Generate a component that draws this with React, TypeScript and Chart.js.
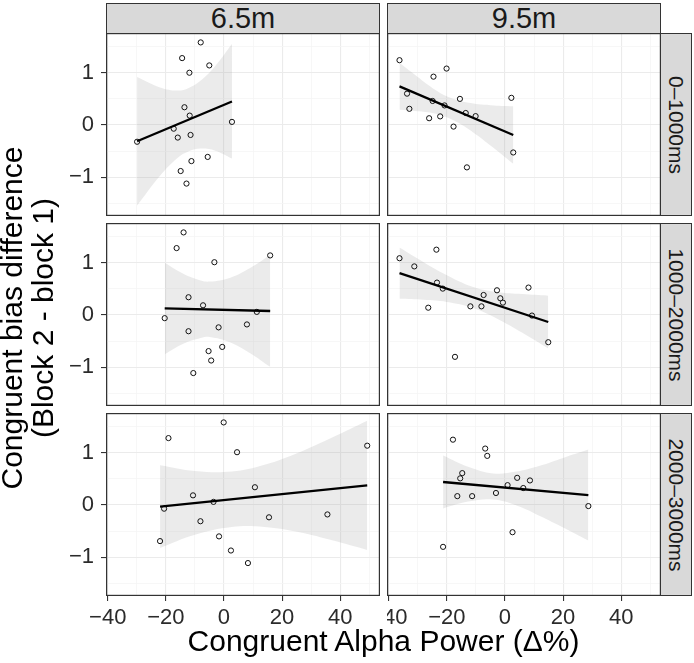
import React, { useEffect, useRef } from "react";
import { Chart, registerables } from "chart.js";

Chart.register(...registerables);

const FONT = "'Liberation Sans', Arial, Helvetica, sans-serif";

// facet labels
const columnLabels = ["6.5m", "9.5m"];
const rowLabels = ["0\u20131000ms", "1000\u20132000ms", "2000\u20133000ms"];

// axes
const xMajorTicks = [-40, -20, 0, 20, 40];
const xMinorTicks = [-30, -10, 10, 30, 50];
const yMajorTicks = [-1, 0, 1];
const yMinorTicks = [-1.5, -0.5, 0.5, 1.5];
const xRange = [-40.6, 53.7];
const yRange = [-1.74, 1.76];
const xTitle = "Congruent Alpha Power (\u0394%)";
const yTitleLines = ["Congruent bias difference", "(Block 2 - block 1)"];

// ---- row 1 (0–1000ms), 6.5m
const r1c1X = [-29.9, -8.0, -14.4, -5.05, -11.9, -13.6, -11.8, 2.75, -17.3, -15.9, -11.5, -5.6, -11.2, -14.9, -12.9];
const r1c1Y = [-0.32, 1.58, 1.28, 1.14, 1.0, 0.34, 0.18, 0.06, -0.07, -0.24, -0.19, -0.61, -0.69, -0.88, -1.12];
const r1c1FitX = [-29.9, 2.75];
const r1c1FitY = [-0.31, 0.45];
const r1c1BandX = [-29.9, -22, -16, -12.1, -8, -3, 2.75];
const r1c1BandLo = [-1.54, -0.97, -0.63, -0.5, -0.45, -0.49, -0.64];
const r1c1BandHi = [0.92, 0.72, 0.66, 0.71, 0.85, 1.13, 1.55];

// ---- row 1 (0–1000ms), 9.5m
const r1c2X = [-36.3, -33.7, -32.9, -24.6, -26.1, -24.9, -22.3, -20.1, -20.8, -17.7, -15.5, -13.5, -10.1, -13.1, 2.2, 2.85];
const r1c2Y = [1.24, 0.6, 0.31, 0.925, 0.13, 0.46, 0.165, 1.08, 0.375, -0.03, 0.5, 0.23, 0.17, -0.81, 0.52, -0.525];
const r1c2FitX = [-36.3, 2.85];
const r1c2FitY = [0.74, -0.19];
const r1c2BandX = [-36.3, -31, -25, -19.2, -13, -5, 2.85];
const r1c2BandLo = [0.29, 0.27, 0.23, 0.13, -0.06, -0.39, -0.74];
const r1c2BandHi = [1.19, 0.96, 0.71, 0.53, 0.43, 0.38, 0.36];

// ---- row 2 (1000–2000ms), 6.5m
const r2c1X = [-20.4, -16.3, -13.9, -12.2, -12.2, -10.55, -7.2, -5.3, -4.4, -3.3, -1.85, -0.6, 7.9, 11.3, 15.9];
const r2c1Y = [-0.06, 1.28, 1.58, 0.34, -0.31, -1.11, 0.186, -0.69, -0.87, 1.01, -0.236, -0.61, -0.18, 0.06, 1.14];
const r2c1FitX = [-20.4, 15.9];
const r2c1FitY = [0.128, 0.077];
const r2c1BandX = [-20.4, -14, -8, -4.87, 2, 9, 15.9];
const r2c1BandLo = [-0.75, -0.55, -0.44, -0.42, -0.52, -0.73, -0.99];
const r2c1BandHi = [1.0, 0.79, 0.66, 0.64, 0.71, 0.9, 1.15];

// ---- row 2 (1000–2000ms), 9.5m
const r2c2X = [-36.3, -31.2, -23.6, -23.4, -21.4, -26.4, -17.2, -11.9, -8.1, -7.35, -2.75, -1.6, -0.7, 8.1, 9.3, 14.9];
const r2c2Y = [1.086, 0.93, 1.25, 0.62, 0.505, 0.14, -0.8, 0.166, 0.166, 0.383, 0.473, 0.32, 0.237, 0.525, -0.01, -0.52];
const r2c2FitX = [-36.3, 14.9];
const r2c2FitY = [0.8, -0.134];
const r2c2BandX = [-36.3, -28, -20, -11.2, -3, 6, 14.9];
const r2c2BandLo = [0.31, 0.29, 0.25, 0.14, -0.06, -0.34, -0.64];
const r2c2BandHi = [1.29, 1.01, 0.76, 0.54, 0.44, 0.4, 0.37];

// ---- row 3 (2000–3000ms), 6.5m
const r3c1X = [-22.0, -20.6, -19.1, -10.65, -8.1, -3.6, -1.7, -0.1, 2.4, 4.5, 8.25, 10.65, 15.5, 35.6, 49.3];
const r3c1Y = [-0.69, -0.07, 1.28, 0.185, -0.31, 0.06, -0.6, 1.58, -0.87, 1.01, -1.11, 0.34, -0.235, -0.18, 1.135];
const r3c1FitX = [-22, 49.3];
const r3c1FitY = [-0.03, 0.377];
const r3c1BandX = [-22, -10, 2.69, 14, 26, 37.6, 49.3];
const r3c1BandLo = [-0.82, -0.57, -0.42, -0.42, -0.52, -0.68, -0.86];
const r3c1BandHi = [0.76, 0.65, 0.64, 0.77, 1.01, 1.3, 1.61];

// ---- row 3 (2000–3000ms), 9.5m
const r3c2X = [-17.9, -21.3, -6.8, -6.1, -14.7, -15.4, -16.4, -11.3, -3.1, 0.9, 4.2, 6.3, 8.6, 2.6, 28.7];
const r3c2Y = [1.25, -0.8, 1.08, 0.94, 0.61, 0.51, 0.17, 0.17, 0.23, 0.38, 0.52, 0.325, 0.47, -0.52, -0.02];
const r3c2FitX = [-21.3, 28.7];
const r3c2FitY = [0.44, 0.19];
const r3c2BandX = [-21.3, -12.7, -4.11, 4, 12, 20, 28.7];
const r3c2BandLo = [-0.065, 0.065, 0.104, -0.01, -0.21, -0.43, -0.68];
const r3c2BandHi = [0.945, 0.73, 0.604, 0.64, 0.75, 0.9, 1.06];

type PanelData = {
  x: number[]; y: number[];
  fitX: number[]; fitY: number[];
  bandX: number[]; bandLo: number[]; bandHi: number[];
};

const panels: PanelData[][] = [
  [
    { x: r1c1X, y: r1c1Y, fitX: r1c1FitX, fitY: r1c1FitY, bandX: r1c1BandX, bandLo: r1c1BandLo, bandHi: r1c1BandHi },
    { x: r1c2X, y: r1c2Y, fitX: r1c2FitX, fitY: r1c2FitY, bandX: r1c2BandX, bandLo: r1c2BandLo, bandHi: r1c2BandHi },
  ],
  [
    { x: r2c1X, y: r2c1Y, fitX: r2c1FitX, fitY: r2c1FitY, bandX: r2c1BandX, bandLo: r2c1BandLo, bandHi: r2c1BandHi },
    { x: r2c2X, y: r2c2Y, fitX: r2c2FitX, fitY: r2c2FitY, bandX: r2c2BandX, bandLo: r2c2BandLo, bandHi: r2c2BandHi },
  ],
  [
    { x: r3c1X, y: r3c1Y, fitX: r3c1FitX, fitY: r3c1FitY, bandX: r3c1BandX, bandLo: r3c1BandLo, bandHi: r3c1BandHi },
    { x: r3c2X, y: r3c2Y, fitX: r3c2FitX, fitY: r3c2FitY, bandX: r3c2BandX, bandLo: r3c2BandLo, bandHi: r3c2BandHi },
  ],
];

// layout
const COL_LEFT = [106, 387];
const ROW_TOP = [33, 223, 413];
const PW = 274;
const PH = 183;
const AX_L = 56;
const AX_B = 38;

const zip = (a: number[], b: number[]) => a.map((v, i) => ({ x: v, y: b[i] }));
const fmt = (v: number) => (v < 0 ? "\u2212" + Math.abs(v) : String(v));

const borderPlugin = {
  id: "panelBorder",
  afterDraw(chart: any) {
    const { ctx, chartArea: a } = chart;
    ctx.save();
    ctx.strokeStyle = "#333333";
    ctx.lineWidth = 1.2;
    ctx.strokeRect(a.left + 0.6, a.top + 0.6, a.right - a.left - 1.2, a.bottom - a.top - 1.2);
    ctx.restore();
  },
};

const zeroPad = (s: any) => {
  s.paddingTop = 0;
  s.paddingBottom = 0;
  s.paddingLeft = 0;
  s.paddingRight = 0;
};

function Panel({ row, col }: { row: number; col: number }) {
  const ref = useRef<HTMLCanvasElement>(null);
  const showY = col === 0;
  const showX = row === 2;
  const w = PW + (showY ? AX_L : 0);
  const h = PH + (showX ? AX_B : 0);

  useEffect(() => {
    const d = panels[row][col];
    const xAll = [...xMajorTicks, ...xMinorTicks].sort((a, b) => a - b);
    const yAll = [...yMajorTicks, ...yMinorTicks].sort((a, b) => a - b);
    const chart = new Chart(ref.current as HTMLCanvasElement, {
      type: "line",
      data: {
        datasets: [
          {
            data: zip(d.fitX, d.fitY),
            borderColor: "#000000",
            borderWidth: 2.3,
            pointRadius: 0,
            fill: false,
          },
          {
            data: zip(d.x, d.y),
            showLine: false,
            pointRadius: 2.6,
            pointBorderWidth: 1,
            pointBorderColor: "#111111",
            pointBackgroundColor: "rgba(0,0,0,0)",
          },
          {
            data: zip(d.bandX, d.bandHi),
            borderColor: "rgba(0,0,0,0)",
            borderWidth: 0,
            pointRadius: 0,
            tension: 0.4,
            fill: "+1",
            backgroundColor: "rgba(153,153,153,0.2)",
          },
          {
            data: zip(d.bandX, d.bandLo),
            borderColor: "rgba(0,0,0,0)",
            borderWidth: 0,
            pointRadius: 0,
            tension: 0.4,
            fill: false,
          },
        ],
      },
      options: {
        animation: false,
        responsive: false,
        events: [],
        layout: { padding: 0, autoPadding: false },
        plugins: { legend: { display: false }, tooltip: { enabled: false } },
        scales: {
          x: {
            type: "linear",
            min: xRange[0],
            max: xRange[1],
            afterBuildTicks: (s: any) => {
              s.ticks = xAll.map((v) => ({ value: v }));
            },
            afterFit: (s: any) => {
              s.height = showX ? AX_B : 0;
              zeroPad(s);
            },
            border: { display: false },
            grid: {
              color: (c: any) => (xMajorTicks.includes(c.tick?.value) ? "#ebebeb" : "#f5f5f5"),
              lineWidth: (c: any) => (xMajorTicks.includes(c.tick?.value) ? 1.1 : 0.8),
              drawTicks: showX,
              tickLength: 5,
              tickWidth: 1.1,
              tickColor: (c: any) => (xMajorTicks.includes(c.tick?.value) ? "#333333" : "rgba(0,0,0,0)"),
            },
            ticks: {
              display: showX,
              autoSkip: false,
              maxRotation: 0,
              padding: 4,
              color: "#2b2b2b",
              font: { family: FONT, size: 22 },
              callback: (v: any) => (xMajorTicks.includes(v) ? fmt(v) : ""),
            },
          },
          y: {
            type: "linear",
            min: yRange[0],
            max: yRange[1],
            afterBuildTicks: (s: any) => {
              s.ticks = yAll.map((v) => ({ value: v }));
            },
            afterFit: (s: any) => {
              s.width = showY ? AX_L : 0;
              zeroPad(s);
            },
            border: { display: false },
            grid: {
              color: (c: any) => (yMajorTicks.includes(c.tick?.value) ? "#ebebeb" : "#f5f5f5"),
              lineWidth: (c: any) => (yMajorTicks.includes(c.tick?.value) ? 1.1 : 0.8),
              drawTicks: showY,
              tickLength: 5,
              tickWidth: 1.1,
              tickColor: (c: any) => (yMajorTicks.includes(c.tick?.value) ? "#333333" : "rgba(0,0,0,0)"),
            },
            ticks: {
              display: showY,
              autoSkip: false,
              padding: 7,
              color: "#2b2b2b",
              font: { family: FONT, size: 22 },
              callback: (v: any) => (yMajorTicks.includes(v) ? fmt(v) : ""),
            },
          },
        },
      },
      plugins: [borderPlugin],
    } as any);
    return () => chart.destroy();
  }, [row, col]);

  return (
    <canvas
      ref={ref}
      width={w}
      height={h}
      style={{
        position: "absolute",
        left: COL_LEFT[col] - (showY ? AX_L : 0),
        top: ROW_TOP[row],
        width: w,
        height: h,
      }}
    />
  );
}

export default function App() {
  const stripStyle: React.CSSProperties = {
    position: "absolute",
    boxSizing: "border-box",
    background: "#d9d9d9",
    border: "1.2px solid #333333",
    color: "#1a1a1a",
    display: "flex",
    alignItems: "center",
    justifyContent: "center",
    overflow: "hidden",
    whiteSpace: "nowrap",
  };
  return (
    <div
      style={{
        position: "absolute",
        left: 0,
        top: 0,
        width: 694,
        height: 663,
        background: "#ffffff",
        fontFamily: FONT,
        overflow: "hidden",
      }}
    >
      {columnLabels.map((lab, c) => (
        <div
          key={"cs" + c}
          style={{ ...stripStyle, left: COL_LEFT[c], top: 3, width: PW, height: 31, fontSize: 29, lineHeight: "31px" }}
        >
          {lab}
        </div>
      ))}
      {rowLabels.map((lab, r) => (
        <div
          key={"rs" + r}
          style={{ ...stripStyle, left: COL_LEFT[1] + PW - 1, top: ROW_TOP[r], width: 32, height: PH }}
        >
          <div style={{ transform: "rotate(90deg)", fontSize: 21, lineHeight: "22px" }}>{lab}</div>
        </div>
      ))}
      {[0, 1, 2].map((r) =>
        [0, 1].map((c) => <Panel key={r + "-" + c} row={r} col={c} />)
      )}
      <div
        style={{
          position: "absolute",
          left: 383.5 - 300,
          width: 600,
          top: 626,
          fontSize: 30,
          lineHeight: "30px",
          textAlign: "center",
          color: "#000",
          whiteSpace: "nowrap",
        }}
      >
        {xTitle}
      </div>
      <div
        style={{
          position: "absolute",
          left: 27 - 300,
          top: 318 - 31,
          width: 600,
          height: 62,
          transform: "rotate(-90deg)",
          transformOrigin: "50% 50%",
          fontSize: 30,
          lineHeight: "31px",
          textAlign: "center",
          color: "#000",
          whiteSpace: "nowrap",
        }}
      >
        <div>{yTitleLines[0]}</div>
        <div>{yTitleLines[1]}</div>
      </div>
    </div>
  );
}
